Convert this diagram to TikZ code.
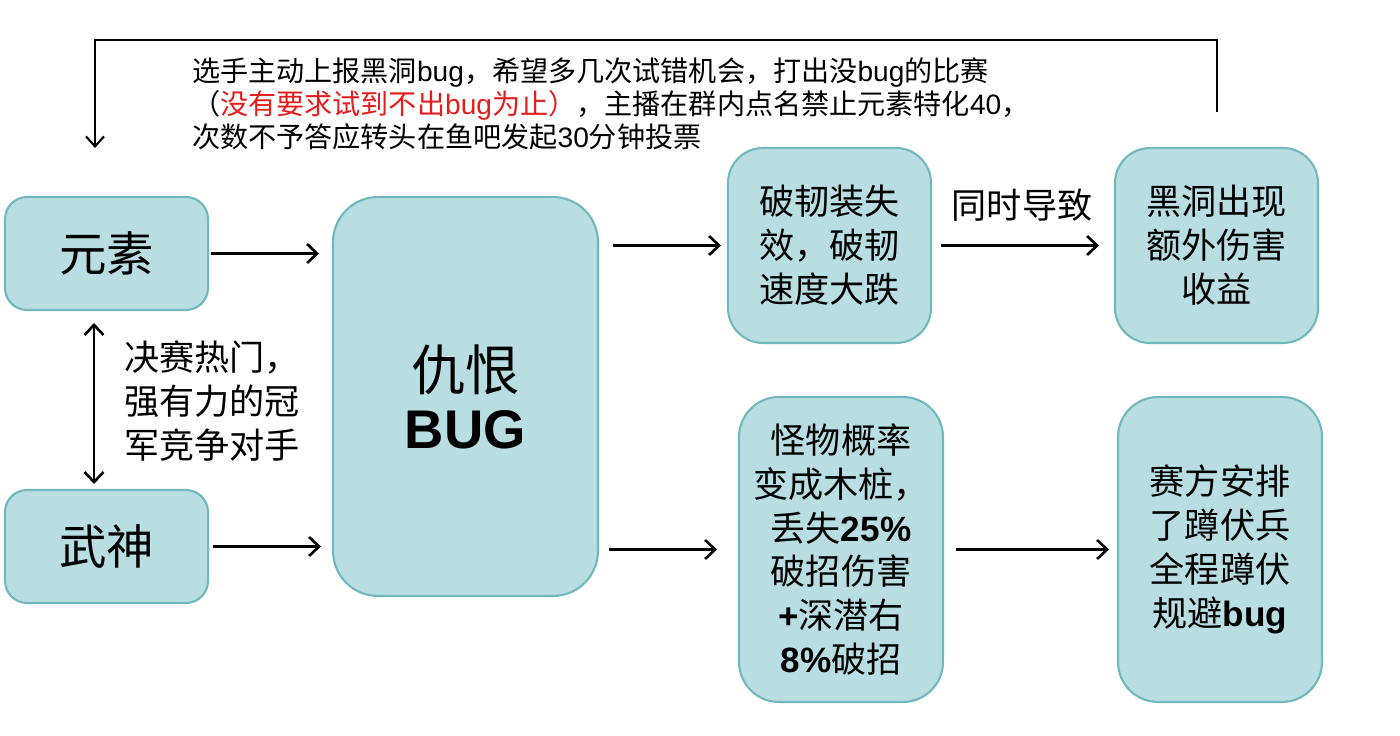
\documentclass[tikz,border=0pt]{standalone}
\usepackage{fontspec}
\setmainfont{Noto Sans CJK SC}
\newfontfamily\lib{Liberation Sans}
\usetikzlibrary{arrows.meta,calc}
\definecolor{boxfill}{RGB}{184,222,226}
\definecolor{boxline}{RGB}{112,184,190}
\definecolor{redtxt}{RGB}{228,28,28}
\tikzset{
  cbox/.style={draw=boxline, fill=boxfill, line width=1.2pt, align=center, inner sep=0pt},
  txt/.style={font=\fontsize{20pt}{25pt}\selectfont},
  arr/.style={line width=1.5pt, -{Straight Barb[length=0.2cm,width=0.38cm,line width=1.5pt]}},
  dbl/.style={line width=1.5pt, {Straight Barb[length=0.2cm,width=0.38cm,line width=1.5pt]}-{Straight Barb[length=0.2cm,width=0.38cm,line width=1.5pt]}},
  fb/.style={line width=1.2pt, -{Straight Barb[length=0.2cm,width=0.36cm,line width=1.2pt]}}
}
\newcommand{\bl}[1]{{\lib\bfseries #1}}
\newcommand{\la}[1]{{\lib #1}}
\begin{document}
\begin{tikzpicture}[x=0.02cm,y=-0.02cm]
\useasboundingbox (0,0) rectangle (1400,736);

\node[cbox, minimum width=4.06cm, minimum height=2.26cm, rounded corners=0.44cm,
      font=\fontsize{27pt}{30pt}\selectfont] (yuan) at (106.5,253.5) {元素};
\node[cbox, minimum width=4.06cm, minimum height=2.26cm, rounded corners=0.44cm,
      font=\fontsize{27pt}{30pt}\selectfont] (wushen) at (106.5,546.5) {武神};
\node[cbox, minimum width=5.3cm, minimum height=7.98cm, rounded corners=0.9cm,
      font=\fontsize{31pt}{33pt}\selectfont] (bug) at (465.5,396.5) {仇恨\\\bl{BUG}};
\node[cbox, txt, minimum width=4.06cm, minimum height=3.9cm, rounded corners=0.7cm] (poren) at (829.5,245.5)
  {破韧装失\\效，破韧\\速度大跌};
\node[cbox, txt, minimum width=4.06cm, minimum height=3.9cm, rounded corners=0.7cm] (heidong) at (1216.5,245.5)
  {黑洞出现\\额外伤害\\收益};
\node[cbox, txt, minimum width=4.08cm, minimum height=6.1cm, rounded corners=0.8cm] (guaiwu) at (841,549.5)
  {怪物概率\\变成木桩，\\丢失\bl{25\%}\\破招伤害\\\bl{+}深潜右\\\bl{8\%}破招};
\node[cbox, txt, minimum width=4.08cm, minimum height=6.1cm, rounded corners=0.8cm] (saifang) at (1220,549.5)
  {赛方安排\\了蹲伏兵\\全程蹲伏\\规避\bl{bug}};

\node[txt, anchor=west, align=left] (rival) at (118,401) {决赛热门，\\强有力的冠\\军竞争对手};
\node[txt] (tongshi) at (1022,205) {同时导致};

\node[anchor=west, align=left, font=\fontsize{16pt}{18.8pt}\selectfont] (report) at (186,104)
  {选手主动上报黑洞\la{bug}，希望多几次试错机会，打出没\la{bug}的比赛\\
   （{\color{redtxt}没有要求试到不出\la{bug}为止）}，主播在群内点名禁止元素特化\la{40}，\\
   次数不予答应转头在鱼吧发起\la{30}分钟投票};

\draw[arr, shorten <=0.04cm, shorten >=0.26cm] (yuan.east) -- (yuan.east -| bug.west);
\draw[arr, shorten <=0.08cm, shorten >=0.22cm] (wushen.east) -- (wushen.east -| bug.west);
\draw[arr, shorten <=0.28cm, shorten >=0.12cm] (bug.east |- poren.west) -- (poren.west);
\draw[arr, shorten <=0.2cm, shorten >=0.42cm] (bug.east |- guaiwu.west) -- (guaiwu.west);
\draw[arr, shorten <=0.18cm, shorten >=0.3cm] (poren.east) -- (heidong.west);
\draw[arr, shorten <=0.24cm, shorten >=0.16cm] (guaiwu.east) -- (saifang.west);
\draw[dbl] ($(yuan.south)+(-12.5,12)$) -- ($(wushen.north)+(-12.5,-5)$);

\coordinate (fbStart) at (1217,112);
\coordinate (fbCorner) at (95,40);
\coordinate (fbEnd) at (95,148);
\draw[fb] (fbStart) |- (fbCorner) -- (fbEnd);
\end{tikzpicture}
\end{document}
